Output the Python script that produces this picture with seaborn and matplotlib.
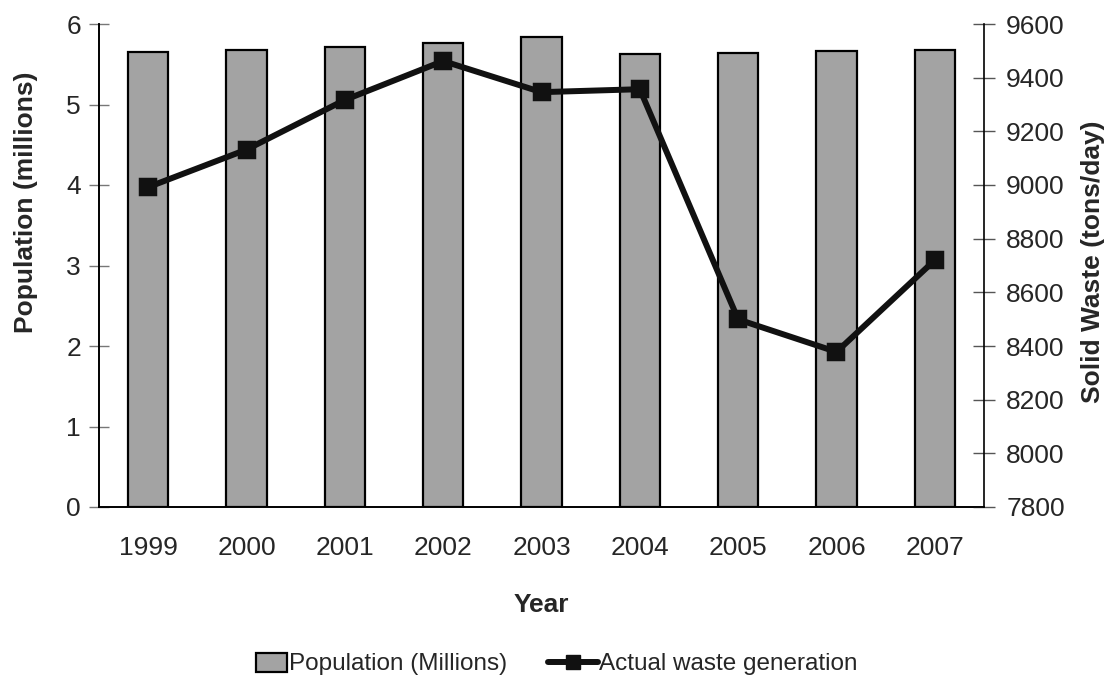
import numpy as np
import pandas as pd
import matplotlib
matplotlib.use("Agg")
import matplotlib.pyplot as plt
import seaborn as sns
from matplotlib.patches import Patch, Rectangle
from matplotlib.lines import Line2D
from matplotlib.legend_handler import HandlerPatch
from matplotlib.ticker import FixedLocator

years = ["1999", "2000", "2001", "2002", "2003", "2004", "2005", "2006", "2007"]
population = [5.65, 5.68, 5.72, 5.77, 5.84, 5.63, 5.64, 5.66, 5.68]
waste = [8992, 9132, 9317, 9462, 9346, 9357, 8499, 8378, 8720]

df = pd.DataFrame({"Year": years, "Population": population, "Waste": waste})

sns.set_style("white")
plt.rcParams["font.family"] = ["Liberation Sans", "DejaVu Sans"]

fig = plt.figure(figsize=(11.15, 6.88), dpi=100)
ax = fig.add_axes([99 / 1115, 1 - 507 / 688, (984 - 99) / 1115, (507 - 24) / 688])

sns.barplot(data=df, x="Year", y="Population", ax=ax, color="#a3a3a3",
            saturation=1, width=0.41, edgecolor="black", linewidth=1.6)
ax.set_xlim(-0.5, 8.5)
ax.set_ylim(0, 6)
ax.set_yticks(range(0, 7))

ax2 = ax.twinx()
sns.pointplot(data=df, x="Year", y="Waste", ax=ax2, color="#111111",
              markers="s", linestyles="-", markersize=10, linewidth=4.3)
ax2.set_xlim(-0.5, 8.5)
ax2.set_ylim(7800, 9600)
ax2.set_yticks(range(7800, 9601, 200))

# ticks
ax.xaxis.set_minor_locator(FixedLocator(np.arange(-0.5, 9, 1)))
ax.tick_params(axis="x", which="major", length=0, labelsize=19, pad=21)
ax.tick_params(axis="x", which="minor", direction="inout", length=16, width=1, color="#555555")
ax.tick_params(axis="y", direction="inout", length=14, width=1, color="#777777", labelsize=19, pad=6)
ax2.tick_params(axis="y", direction="inout", length=16, width=1, color="#555555", labelsize=19, pad=8)

for a in (ax, ax2):
    a.spines["top"].set_visible(False)
    for s in ("left", "bottom", "right"):
        a.spines[s].set_color("black")
        a.spines[s].set_linewidth(1.2)
ax.spines["right"].set_visible(False)

ax.set_xlabel("Year", fontsize=19, fontweight="bold")
ax.set_ylabel("Population (millions)", fontsize=19, fontweight="bold")
ax2.set_ylabel("Solid Waste (tons/day)", fontsize=19, fontweight="bold")
ax.xaxis.set_label_coords(0.5, (507 - 593) / 483)
ax.yaxis.set_label_coords((38 - 99) / 885, (507 - 202) / 483)
ax2.yaxis.set_label_coords((1081 - 99) / 885, (507 - 262) / 483)


def narrow_rect(legend, orig_handle, xdescent, ydescent, width, height, fontsize):
    w = 0.62 * width
    return Rectangle((width - w - xdescent, -ydescent - 0.1 * height), w, 1.1 * height)


handles = [
    Patch(facecolor="#a3a3a3", edgecolor="black", linewidth=1.6, label="Population (Millions)"),
    Line2D([0], [0], color="#111111", linewidth=4.3, marker="s", markersize=10,
           label="Actual waste generation"),
]
fig.legend(handles=handles, loc="center", bbox_to_anchor=(0.5 - 10 / 1115, 1 - 664 / 688), ncol=2,
           frameon=False, fontsize=17.5, handlelength=2.05, handletextpad=0.05,
           columnspacing=1.7,
           handler_map={Patch: HandlerPatch(patch_func=narrow_rect)})

fig.savefig("out.png", dpi=100)
